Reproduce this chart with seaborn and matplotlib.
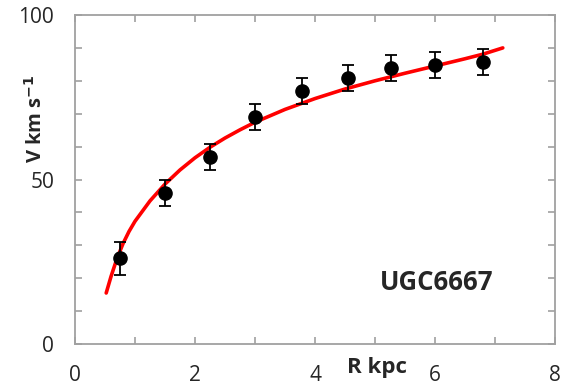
import numpy as np
import pandas as pd
import seaborn as sns
import matplotlib.pyplot as plt
from matplotlib.ticker import MultipleLocator

r_obs = [0.75, 1.5, 2.25, 3.0, 3.78, 4.55, 5.27, 6.0, 6.8]
v_obs = [26.1, 45.9, 56.8, 69.0, 76.9, 80.8, 83.9, 84.8, 85.7]
v_err = [5.0, 4.0, 4.0, 4.0, 4.0, 4.0, 4.0, 4.0, 4.0]

# model curve
r_fit = [0.52, 0.6, 0.7, 0.8, 0.9, 1.0, 1.25, 1.5, 1.75, 2.0, 2.25, 2.5,
         2.75, 3.0, 3.5, 4.0, 4.5, 5.0, 5.5, 6.0, 6.5, 6.8, 7.13]
v_fit = [15.5, 20.5, 26.0, 30.5, 34.2, 37.3, 43.5, 48.6, 52.9, 56.6, 59.8,
         62.6, 65.1, 67.4, 71.3, 74.6, 77.5, 80.0, 82.3, 84.5, 86.7, 88.1, 90.0]

label = "UGC6667"

sns.set_style("ticks")
plt.rcParams['font.family'] = ['Open Sans', 'DejaVu Sans']

fig = plt.figure(figsize=(5.73, 3.92), dpi=100)
ax = fig.add_axes([75/573, 48/392, 480/573, 329/392])

fit = pd.DataFrame({"R": r_fit, "V": v_fit})
sns.lineplot(data=fit, x="R", y="V", color="#ff0000", lw=2.6, ax=ax)

ax.errorbar(r_obs, v_obs, yerr=v_err, fmt="o", color="black", ms=9.5,
            capsize=4.5, elinewidth=1.3, capthick=1.3, zorder=3)

ax.set_xlim(0, 8)
ax.set_ylim(0, 100)
ax.xaxis.set_major_locator(MultipleLocator(2))
ax.xaxis.set_minor_locator(MultipleLocator(1))
ax.yaxis.set_major_locator(MultipleLocator(50))
ax.yaxis.set_minor_locator(MultipleLocator(10))

gray = "#a0a0a0"
for s in ax.spines.values():
    s.set_color(gray)
    s.set_linewidth(1.3)
ax.tick_params(which="both", direction="in", top=True, right=True,
               length=5, width=1.2, color=gray, labelsize=15, pad=15)

ax.set_xlabel("R kpc", fontsize=16, fontweight="bold")
ax.set_ylabel("V km s$^{\\mathbf{-1}}$", fontsize=14.5, fontweight="bold")
ax.xaxis.set_label_coords(0.63, -0.04)
ax.yaxis.set_label_coords(-0.058, 0.685)

ax.text(6.02, 18.8, label, fontsize=18.5, fontweight="bold",
        ha="center", va="center")

fig.savefig("out.png", dpi=100)
